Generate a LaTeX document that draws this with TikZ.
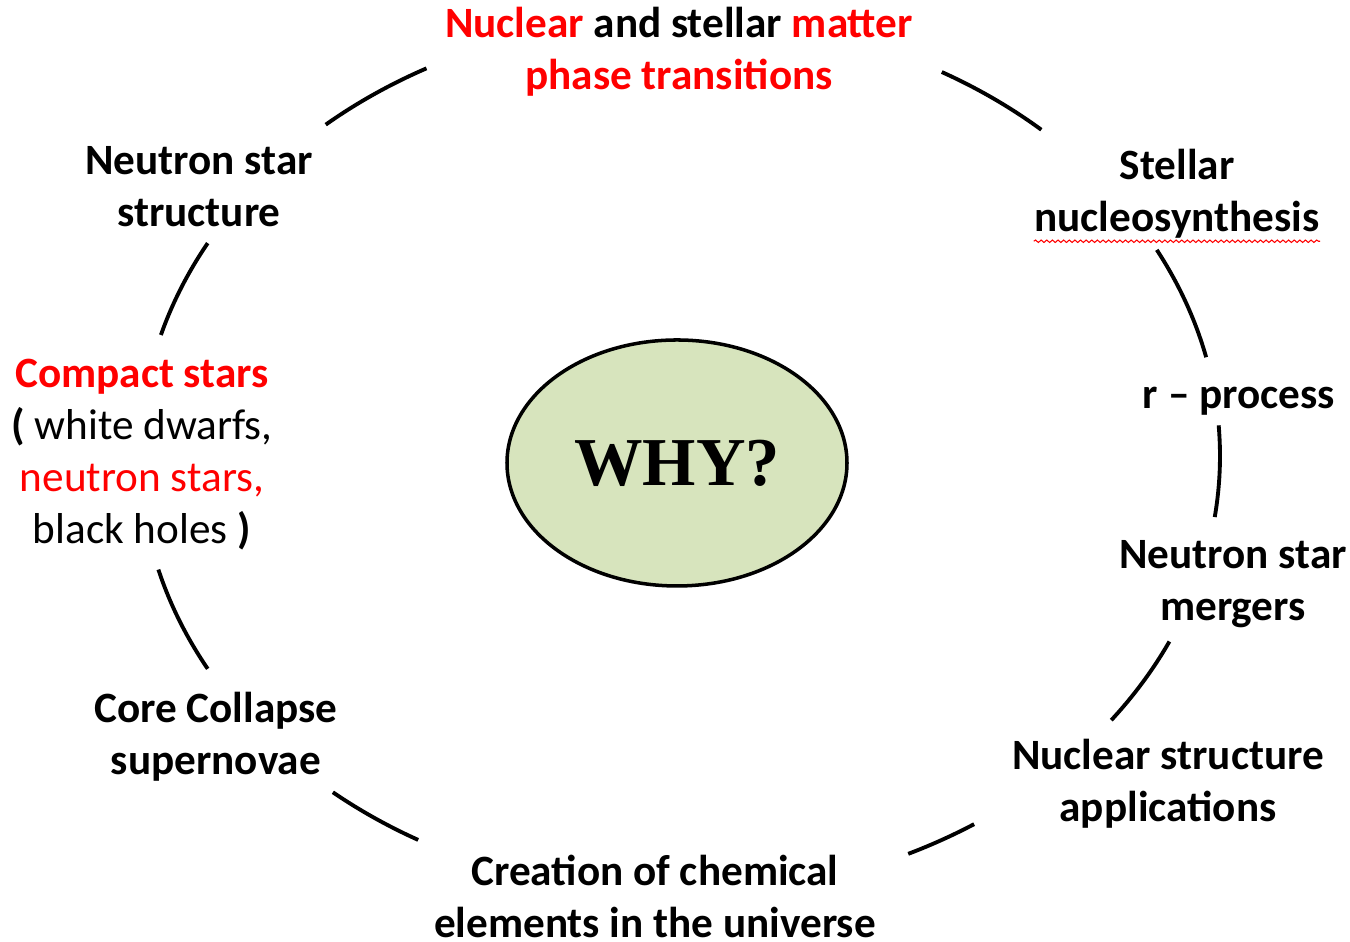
\documentclass[tikz,border=0pt]{standalone}
\usepackage{fontspec}
\setmainfont{Carlito}
\newfontfamily\whyfont{Liberation Serif}
\usetikzlibrary{shapes.geometric, positioning, calc, decorations.pathmorphing}
\definecolor{whyred}{HTML}{FF0000}
\definecolor{whygreen}{HTML}{D7E4BD}
\tikzset{
  topic/.style={align=center, inner sep=0pt, font=\fontsize{12.3}{14.8}\selectfont\bfseries},
  ring/.style={line width=1.1pt, black}
}

\begin{document}
\begin{tikzpicture}
  \useasboundingbox (0,0) rectangle (13.5,9.42);
  \node[ellipse, draw, line width=1pt, fill=whygreen, minimum width=3.4cm, minimum height=2.46cm,
        font=\whyfont\fontsize{19.5}{22}\selectfont\bfseries] (why) at (6.77,4.79) {WHY?};

  \node[topic] (phase) at (6.79,8.90) {\textcolor{whyred}{Nuclear} and stellar \textcolor{whyred}{matter}\\ \textcolor{whyred}{phase transitions}};
  \node[topic] (stellar) at (11.77,7.48) {Stellar\\ nucleosynthesis};
  \node[topic] (rproc) at (12.39,5.41) {r -- process};
  \node[topic] (mergers) at (12.33,3.58) {Neutron star\\ mergers};
  \node[topic] (applic) at (11.68,1.58) {Nuclear structure\\ applications};
  \node[topic] (creation) at (6.55,0.46) {Creation of chemical\\ elements in the universe};
  \node[topic] (core) at (2.16,2.05) {Core Collapse\\ supernovae};
  \node[topic] (compact) at (1.42,4.87) {\textcolor{whyred}{Compact stars}\\
    ( \mdseries white dwarfs,\\
    \mdseries\textcolor{whyred}{neutron stars,}\\
    \mdseries black holes \bfseries)};
  \node[topic] (structure) at (1.99,7.55) {Neutron star\\ structure};

  \draw[whyred, line width=0.3pt, decorate, decoration={snake, amplitude=0.35pt, segment length=1.6pt}]
    ($(stellar.south west)+(0,-0.02)$) -- ($(stellar.south east)+(0,-0.02)$);

  \draw[ring] (6.80,4.86) ++(118:5.40 and 4.39) arc[start angle=118, end angle=131, x radius=5.40, y radius=4.39];
  \draw[ring] (6.80,4.86) ++(48:5.40 and 4.39) arc[start angle=48, end angle=61, x radius=5.40, y radius=4.39];
  \draw[ring] (6.80,4.86) ++(13:5.40 and 4.39) arc[start angle=13, end angle=28, x radius=5.40, y radius=4.39];
  \draw[ring] (6.80,4.86) ++(-8:5.40 and 4.39) arc[start angle=-8, end angle=4, x radius=5.40, y radius=4.39];
  \draw[ring] (6.80,4.86) ++(-37:5.40 and 4.39) arc[start angle=-37, end angle=-25, x radius=5.40, y radius=4.39];
  \draw[ring] (6.80,4.86) ++(-65:5.40 and 4.39) arc[start angle=-65, end angle=-57, x radius=5.40, y radius=4.39];
  \draw[ring] (6.80,4.86) ++(-130:5.40 and 4.39) arc[start angle=-130, end angle=-119, x radius=5.40, y radius=4.39];
  \draw[ring] (6.80,4.86) ++(195:5.40 and 4.39) arc[start angle=195, end angle=209, x radius=5.40, y radius=4.39];
  \draw[ring] (6.80,4.86) ++(151:5.40 and 4.39) arc[start angle=151, end angle=164, x radius=5.40, y radius=4.39];
\end{tikzpicture}
\end{document}
